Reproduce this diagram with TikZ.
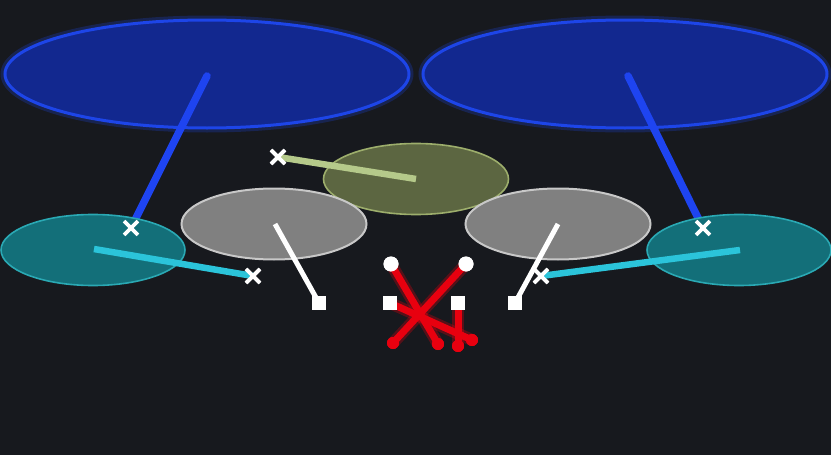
\documentclass[tikz,border=0pt]{standalone}
\usetikzlibrary{shapes.geometric,shapes.misc}
\definecolor{bgc}{HTML}{17191E}
\definecolor{bluefill}{HTML}{12288F}
\definecolor{bluedraw}{HTML}{1D45E8}
\definecolor{blueline}{HTML}{1E44F0}
\definecolor{cyanfill}{HTML}{136F79}
\definecolor{cyandraw}{HTML}{2AA9B4}
\definecolor{cyanline}{HTML}{2BC4DA}
\definecolor{grayfill}{HTML}{808080}
\definecolor{graydraw}{HTML}{C8C8C8}
\definecolor{olivefill}{HTML}{5C6641}
\definecolor{olivedraw}{HTML}{9DAE6C}
\definecolor{oliveline}{HTML}{B5C98A}
\definecolor{redline}{HTML}{E8000F}
\tikzset{
  oval/.style={ellipse, inner sep=0pt, outer sep=0pt},
  bigoval/.style={oval, minimum width=404pt, minimum height=108pt, fill=bluefill, draw=bluedraw, line width=3pt},
  cyanoval/.style={oval, minimum width=184pt, minimum height=71pt, fill=cyanfill, draw=cyandraw, line width=1.6pt},
  grayoval/.style={oval, minimum width=185pt, minimum height=71pt, fill=grayfill, draw=graydraw, line width=2pt},
  oliveoval/.style={oval, minimum width=185pt, minimum height=71pt, fill=olivefill, draw=olivedraw, line width=1.6pt},
  bluelink/.style={draw=blueline, line width=7.5pt, line cap=round},
  cyanlink/.style={draw=cyanline, line width=6.5pt},
  olivelink/.style={draw=oliveline, line width=6.5pt},
  whitelink/.style={draw=white, line width=5pt},
  redlink/.style={draw=redline, line width=7pt},
  redglow/.style={draw=redline, line width=12pt, opacity=0.3, line cap=round},
  xmark/.style={cross out, draw=white, line width=3.8pt, minimum size=10pt, inner sep=0pt},
  sqmark/.style={rectangle, fill=white, minimum size=14pt, inner sep=0pt},
  circmark/.style={circle, fill=white, minimum size=15pt, inner sep=0pt},
  reddot/.style={circle, fill=redline, minimum size=12pt, inner sep=0pt},
  glowblue/.style={draw=bluedraw, opacity=0.25, line width=9pt},
}
\begin{document}
\begin{tikzpicture}[x=1pt,y=-1pt]
\fill[bgc] (0,0) rectangle (831,455);
\useasboundingbox (0,0) rectangle (831,455);

% big blue ovals
\node[oval, minimum width=404pt, minimum height=108pt, glowblue] (blueLg) at (207,74) {};
\node[oval, minimum width=404pt, minimum height=108pt, glowblue] (blueRg) at (625,74) {};
\node[bigoval] (blueL) at (207,74) {};
\node[bigoval] (blueR) at (625,74) {};

% blue links
\coordinate (bLa) at (207,76);
\coordinate (bLb) at (131,228);
\coordinate (bRa) at (628,76);
\coordinate (bRb) at (703,228);
\draw[bluelink] (bLa) -- (bLb);
\draw[bluelink] (bRa) -- (bRb);

% olive oval
\node[oliveoval] (olive) at (416,179) {};

% cyan ovals
\node[cyanoval] (cyanL) at (93,250) {};
\node[cyanoval] (cyanR) at (739,250) {};

% gray ovals
\node[grayoval] (grayL) at (274,224) {};
\node[grayoval] (grayR) at (558,224) {};

% olive link
\coordinate (oa) at (416,179);
\node[xmark] (xo) at (278,157) {};
\draw[olivelink] (oa) -- (xo.center);
\node[xmark] at (xo) {};

% cyan links
\coordinate (cLa) at (94,249);
\coordinate (cRa) at (740,250);
\node[xmark] (xcL) at (253,276) {};
\node[xmark] (xcR) at (541,276) {};
\draw[cyanlink] (cLa) -- (xcL.center);
\draw[cyanlink] (cRa) -- (xcR.center);

% white links
\coordinate (wLa) at (275,224);
\coordinate (wRa) at (558,224);
\node[sqmark] (sq1) at (319,303) {};
\node[sqmark] (sq4) at (515,303) {};
\draw[whitelink] (wLa) -- (sq1.center);
\draw[whitelink] (wRa) -- (sq4.center);
\node[sqmark] at (sq1) {};
\node[sqmark] at (sq4) {};

% x markers on top
\node[xmark] (xbL) at (131,228) {};
\node[xmark] (xbR) at (703,228) {};
\node[xmark] at (xcL) {};
\node[xmark] at (xcR) {};

% inner markers
\node[sqmark] (sq2) at (390,303) {};
\node[sqmark] (sq3) at (458,303) {};
\node[circmark] (c1) at (391,264) {};
\node[circmark] (c2) at (466,264) {};

% red links
\node[reddot] (r1) at (438,344) {};
\node[reddot] (r2) at (393,343) {};
\node[reddot] (r3) at (472,340) {};
\node[reddot] (r4) at (458,346) {};
\draw[redglow] (c1.center) -- (r1.center);
\draw[redglow] (c2.center) -- (r2.center);
\draw[redglow] (sq2.center) -- (r3.center);
\draw[redglow] (sq3.center) -- (r4.center);
\draw[redlink] (c1.center) -- (r1.center);
\draw[redlink] (c2.center) -- (r2.center);
\draw[redlink] (sq2.center) -- (r3.center);
\draw[redlink] (sq3.center) -- (r4.center);
\node[reddot] at (r1) {};
\node[reddot] at (r2) {};
\node[reddot] at (r3) {};
\node[reddot] at (r4) {};
\node[sqmark] at (sq2) {};
\node[sqmark] at (sq3) {};
\node[circmark] at (c1) {};
\node[circmark] at (c2) {};
\end{tikzpicture}
\end{document}
